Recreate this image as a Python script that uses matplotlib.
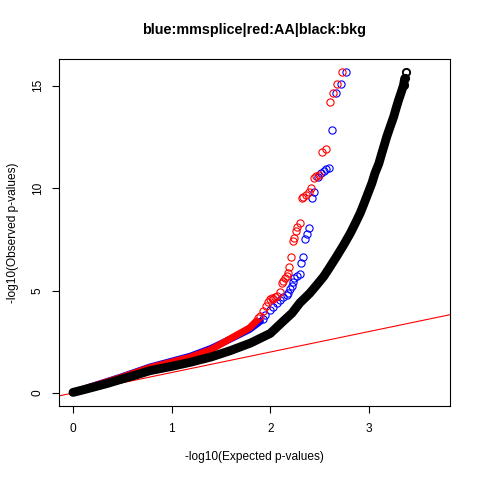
import matplotlib
matplotlib.use('Agg')
import matplotlib.pyplot as plt

# ---- data ----
# background (black), dense band
bkg_exp = [0.00, 0.10, 0.21, 0.35, 0.48, 0.63, 0.78, 1.00, 1.19, 1.40, 1.59, 1.80,
           2.00, 2.13, 2.22, 2.30, 2.40, 2.47, 2.54, 2.60, 2.67, 2.74, 2.81, 2.86,
           2.91, 2.95, 2.99, 3.03, 3.06, 3.10, 3.13, 3.155, 3.18, 3.215, 3.25, 3.275,
           3.30, 3.325, 3.35, 3.362, 3.375]
bkg_obs = [0.03, 0.15, 0.29, 0.47, 0.66, 0.87, 1.09, 1.30, 1.50, 1.76, 2.06, 2.44,
           2.91, 3.50, 3.90, 4.40, 4.87, 5.27, 5.68, 6.12, 6.65, 7.20, 7.79, 8.27,
           8.77, 9.25, 9.75, 10.25, 10.72, 11.20, 11.70, 12.10, 12.51, 13.00, 13.48, 13.90,
           14.30, 14.65, 15.03, 15.35, 15.67]

# mmsplice (blue): dense part and separate points
mm_dense_exp = [0.00, 0.48, 0.78, 1.19, 1.40, 1.59, 1.79, 1.90]
mm_dense_obs = [0.03, 0.77, 1.27, 1.80, 2.18, 2.62, 3.10, 3.50]
mm_exp = [1.93, 1.95, 2.00, 2.03, 2.07, 2.10, 2.13, 2.17, 2.18, 2.20, 2.22, 2.23, 2.24,
          2.27, 2.30, 2.31, 2.33, 2.35, 2.37, 2.39, 2.42, 2.44, 2.48, 2.51, 2.54,
          2.56, 2.59, 2.63, 2.67, 2.72, 2.77]
mm_obs = [3.62, 3.81, 4.05, 4.21, 4.38, 4.54, 4.67, 4.78, 4.89, 5.06, 5.22, 5.43, 5.60,
          5.71, 5.79, 6.33, 6.65, 7.52, 7.74, 8.07, 9.50, 9.82, 10.52, 10.72, 10.83,
          10.93, 11.00, 12.85, 14.62, 15.07, 15.67]

# AA (red): dense part and separate points
aa_dense_exp = [0.00, 0.48, 0.78, 1.19, 1.40, 1.59, 1.79, 1.86]
aa_dense_obs = [0.03, 0.75, 1.24, 1.75, 2.12, 2.64, 3.18, 3.52]
aa_exp = [1.88, 1.90, 1.93, 1.96, 1.98, 2.00, 2.02, 2.03, 2.05, 2.07, 2.10, 2.12,
          2.13, 2.15, 2.17, 2.18, 2.19, 2.21, 2.23, 2.24, 2.26, 2.27, 2.30, 2.32,
          2.33, 2.36, 2.39, 2.41, 2.44, 2.46, 2.49, 2.52, 2.56, 2.60, 2.64, 2.68, 2.73]
aa_obs = [3.65, 3.78, 3.98, 4.25, 4.45, 4.57, 4.62, 4.60, 4.67, 4.73, 4.94, 5.35,
          5.48, 5.60, 5.71, 5.84, 6.16, 6.65, 7.43, 7.55, 7.92, 8.12, 8.28, 9.50,
          9.55, 9.66, 9.79, 10.02, 10.48, 10.59, 10.64, 11.74, 11.91, 14.19, 14.62,
          15.07, 15.67]

x_ticks = [0, 1, 2, 3]
y_ticks = [0, 5, 10, 15]
title = "blue:mmsplice|red:AA|black:bkg"
xlabel = "-log10(Expected p-values)"
ylabel = "-log10(Observed p-values)"

plt.rcParams['font.family'] = ['Liberation Sans', 'DejaVu Sans']

W = 480.0
fig = plt.figure(figsize=(4.8, 4.8), dpi=100)
ax = fig.add_axes([59 / W, 74 / W, 391 / W, 347 / W])
ax.set_xlim(-0.142, 3.821)
ax.set_ylim(-0.634, 16.30)

# reference line y = x
ax.axline((0, 0), slope=1, color='#FF0000', lw=0.8, zorder=1)

ms = 5.2
mew = 0.8
# blue
ax.plot(mm_dense_exp, mm_dense_obs, color='#0000FF', lw=5.0, solid_capstyle='round',
        solid_joinstyle='round', zorder=2)
ax.plot(mm_exp, mm_obs, linestyle='none', marker='o', ms=ms, mfc='none',
        mec='#0000FF', mew=mew, zorder=2)
# red
ax.plot(aa_dense_exp, aa_dense_obs, color='#FF0000', lw=5.0, solid_capstyle='round',
        solid_joinstyle='round', zorder=3)
ax.plot(aa_exp, aa_obs, linestyle='none', marker='o', ms=ms, mfc='none',
        mec='#FF0000', mew=mew, zorder=3)
# black background
ax.plot(bkg_exp[:-1], bkg_obs[:-1], color='black', lw=6.4, solid_capstyle='round',
        solid_joinstyle='round', zorder=4)
ax.plot(bkg_exp[-3:], bkg_obs[-3:], linestyle='none', marker='o', ms=ms, mfc='none',
        mec='black', mew=1.4, zorder=4)

ax.set_xticks(x_ticks)
ax.set_yticks(y_ticks)
ax.set_xticklabels([str(v) for v in x_ticks])
ax.set_yticklabels([str(v) for v in y_ticks], rotation=90, va='center')
ax.tick_params(direction='out', length=5, width=0.8, labelsize=8.6, pad=7, colors='black')
ax.tick_params(axis='y', pad=6)
for s in ax.spines.values():
    s.set_linewidth(0.8)
    s.set_color('black')

fig.text(254.5 / W, 1 - 30 / W, title, ha='center', va='center', fontsize=10.4,
         fontweight='bold')
fig.text(254.5 / W, 1 - 457 / W, xlabel, ha='center', va='center', fontsize=8.6)
fig.text(13 / W, 1 - 232.5 / W, ylabel, ha='center', va='center', fontsize=8.6,
         rotation=90)

fig.savefig('out.png', dpi=100)
